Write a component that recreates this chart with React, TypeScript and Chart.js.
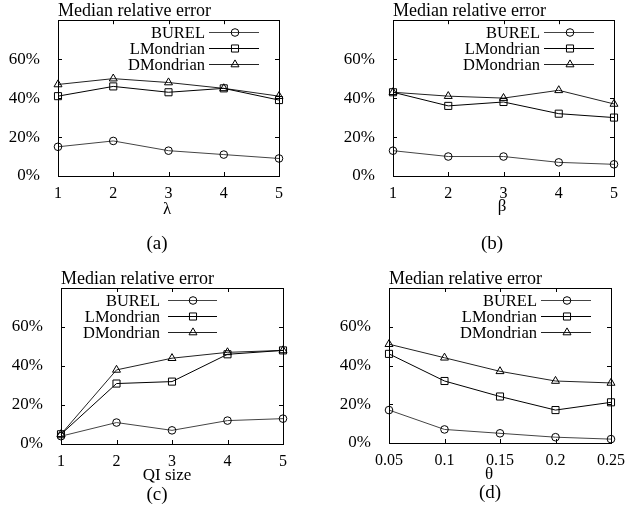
import React, { useEffect, useRef } from 'react';
import { Chart, registerables } from 'chart.js';
import { drawPoint } from 'chart.js/helpers';

Chart.register(...registerables);

// x categories of each panel
const LAMBDA = ['1', '2', '3', '4', '5'];
const BETA = ['1', '2', '3', '4', '5'];
const QI_SIZE = ['1', '2', '3', '4', '5'];
const THETA = ['0.05', '0.1', '0.15', '0.2', '0.25'];

// median relative error, in %
const A_BUREL = [15, 18, 13, 11, 9];
const A_LMONDRIAN = [41, 46, 43, 45, 39];
const A_DMONDRIAN = [47, 50, 48, 45, 41];

const B_BUREL = [13, 10, 10, 7, 6];
const B_LMONDRIAN = [43, 36, 38, 32, 30];
const B_DMONDRIAN = [43, 41, 40, 44, 37];

const C_BUREL = [4, 11, 7, 12, 13];
const C_LMONDRIAN = [5, 31, 32, 46, 48];
const C_DMONDRIAN = [5, 38, 44, 47, 48];

const D_BUREL = [17, 7, 5, 3, 2];
const D_LMONDRIAN = [46, 32, 24, 17, 21];
const D_DMONDRIAN = [51, 44, 37, 32, 31];

const Y_TICKS = [0, 20, 40, 60, 80];
const SERIES = ['BUREL', 'LMondrian', 'DMondrian'];
const Y_TITLE = 'Median relative error';

const FONT = '"Liberation Serif", "DejaVu Serif", serif';

type Layout = {
  x: number; y: number; w: number; h: number;
  l: number; t: number; r: number; b: number;
  legend: [number, number, number, number]; // text right, line start, line end, marker (from plot right)
  xTitle: [number, number];
  caption: [number, number];
};

type PanelProps = {
  labels: string[];
  series: number[][];
  xTitle: string;
  caption: string;
  layout: Layout;
};

const STYLES = [
  { pointStyle: 'circle', radius: 3.8, color: '#444' },
  { pointStyle: 'rect', radius: 5, color: '#000' },
  { pointStyle: 'triangle', radius: 4.6, color: '#222' },
];

const decor = {
  id: 'decor',
  afterDatasetsDraw(chart: any, _args: any, opts: any) {
    const { ctx, chartArea } = chart;
    const { left, top, right, bottom } = chartArea;
    const p: PanelProps = opts.panel;
    const lay = p.layout;
    ctx.save();
    ctx.strokeStyle = '#000';
    ctx.lineWidth = 1;
    ctx.strokeRect(Math.round(left) + 0.5, Math.round(top) + 0.5, Math.round(right - left), Math.round(bottom - top));

    // inward ticks
    const ys = chart.scales.y;
    const xs = chart.scales.x;
    ctx.beginPath();
    Y_TICKS.forEach((v) => {
      if (v === 0 || v === 80) return;
      const py = Math.round(ys.getPixelForValue(v)) + 0.5;
      ctx.moveTo(left, py); ctx.lineTo(left + 4, py);
      ctx.moveTo(right, py); ctx.lineTo(right - 4, py);
    });
    p.labels.forEach((_l, i) => {
      if (i === 0 || i === p.labels.length - 1) return;
      const px = Math.round(xs.getPixelForValue(i)) + 0.5;
      ctx.moveTo(px, bottom); ctx.lineTo(px, bottom - 4);
      ctx.moveTo(px, top); ctx.lineTo(px, top + 4);
    });
    ctx.stroke();

    // title
    ctx.fillStyle = '#000';
    ctx.font = `18px ${FONT}`;
    ctx.textAlign = 'left';
    ctx.textBaseline = 'alphabetic';
    ctx.fillText(Y_TITLE, left, top - 4.5);

    // legend
    const [tr, ls, le, mk] = lay.legend;
    ctx.font = `16.5px ${FONT}`;
    ctx.textAlign = 'right';
    SERIES.forEach((name, i) => {
      const cy = top + 12 + i * 16;
      ctx.fillStyle = '#000';
      ctx.fillText(name, right + tr, cy + 5.5);
      ctx.strokeStyle = STYLES[i].color;
      ctx.lineWidth = 1;
      ctx.beginPath();
      ctx.moveTo(right + ls, Math.round(cy) + 0.5);
      ctx.lineTo(right + le, Math.round(cy) + 0.5);
      ctx.stroke();
      ctx.fillStyle = 'rgba(0,0,0,0)';
      ctx.strokeStyle = '#000';
      drawPoint(ctx, {
        pointStyle: STYLES[i].pointStyle as any,
        radius: STYLES[i].radius,
        rotation: 0,
        borderWidth: 1,
      }, right + mk, Math.round(cy) + 0.5);
    });

    // x title and caption
    ctx.fillStyle = '#000';
    ctx.textAlign = 'center';
    ctx.textBaseline = 'middle';
    ctx.font = `17px ${FONT}`;
    ctx.fillText(p.xTitle, lay.xTitle[0], lay.xTitle[1]);
    ctx.font = `19px ${FONT}`;
    ctx.fillText(p.caption, lay.caption[0], lay.caption[1]);
    ctx.restore();
  },
};

const Panel: React.FC<PanelProps> = (props) => {
  const ref = useRef<HTMLCanvasElement | null>(null);
  const instance = useRef<Chart | null>(null);

  useEffect(() => {
    if (!ref.current) return;
    const lay = props.layout;
    if (instance.current) instance.current.destroy();
    instance.current = new Chart(ref.current, {
      type: 'line',
      data: {
        labels: props.labels,
        datasets: props.series.map((data, i) => ({
          label: SERIES[i],
          data,
          borderColor: STYLES[i].color,
          borderWidth: 1,
          pointStyle: STYLES[i].pointStyle as any,
          pointRadius: STYLES[i].radius,
          pointBorderColor: '#000',
          pointBackgroundColor: 'rgba(0,0,0,0)',
          pointBorderWidth: 1,
          tension: 0,
          clip: false as any,
        })),
      },
      options: {
        responsive: false,
        animation: false,
        devicePixelRatio: 1,
        layout: { padding: { left: 0, top: lay.t, right: lay.w - lay.r, bottom: 0 } },
        plugins: {
          legend: { display: false },
          tooltip: { enabled: false },
          decor: { panel: props },
        } as any,
        scales: {
          x: {
            type: 'category',
            offset: false,
            grid: { display: false },
            border: { display: false },
            ticks: { autoSkip: false, maxRotation: 0, padding: 0, color: '#000', font: { family: FONT, size: 16 } },
            afterFit: (s: any) => { s.height = lay.h - lay.b; },
          },
          y: {
            min: 0,
            max: 80,
            grid: { display: false },
            border: { display: false },
            ticks: {
              stepSize: 20,
              padding: 10,
              color: '#000',
              font: { family: FONT, size: 17 },
              callback: (v: any) => (v === 80 ? '' : `${v}%`),
            },
            afterFit: (s: any) => { s.width = lay.l; },
          },
        },
      },
      plugins: [decor],
    });
    return () => { if (instance.current) instance.current.destroy(); instance.current = null; };
  }, []);

  const lay = props.layout;
  return (
    <canvas
      ref={ref}
      width={lay.w}
      height={lay.h}
      style={{ position: 'absolute', left: lay.x, top: lay.y, width: lay.w, height: lay.h }}
    />
  );
};

const LAYOUT_A: Layout = { x: 0, y: 0, w: 322, h: 256, l: 58, t: 20, r: 279, b: 176, legend: [-74, -70, -20, -44], xTitle: [167, 210], caption: [157, 244] };
const LAYOUT_B: Layout = { x: 322, y: 0, w: 322, h: 256, l: 71, t: 20, r: 292, b: 176, legend: [-74, -70, -20, -44], xTitle: [180, 207], caption: [170, 244] };
const LAYOUT_C: Layout = { x: 0, y: 256, w: 322, h: 257, l: 61, t: 32, r: 283, b: 188, legend: [-123, -115, -66, -90], xTitle: [167, 220], caption: [157, 239] };
const LAYOUT_D: Layout = { x: 322, y: 256, w: 322, h: 257, l: 67, t: 32, r: 289, b: 187, legend: [-74, -70, -20, -44], xTitle: [167, 219], caption: [168, 237] };

const App: React.FC = () => (
  <div style={{ position: 'absolute', left: 0, top: 0, width: 644, height: 513, background: '#fff' }}>
    <Panel labels={LAMBDA} series={[A_BUREL, A_LMONDRIAN, A_DMONDRIAN]} xTitle="λ" caption="(a)" layout={LAYOUT_A} />
    <Panel labels={BETA} series={[B_BUREL, B_LMONDRIAN, B_DMONDRIAN]} xTitle="β" caption="(b)" layout={LAYOUT_B} />
    <Panel labels={QI_SIZE} series={[C_BUREL, C_LMONDRIAN, C_DMONDRIAN]} xTitle="QI size" caption="(c)" layout={LAYOUT_C} />
    <Panel labels={THETA} series={[D_BUREL, D_LMONDRIAN, D_DMONDRIAN]} xTitle="θ" caption="(d)" layout={LAYOUT_D} />
  </div>
);

export default App;
